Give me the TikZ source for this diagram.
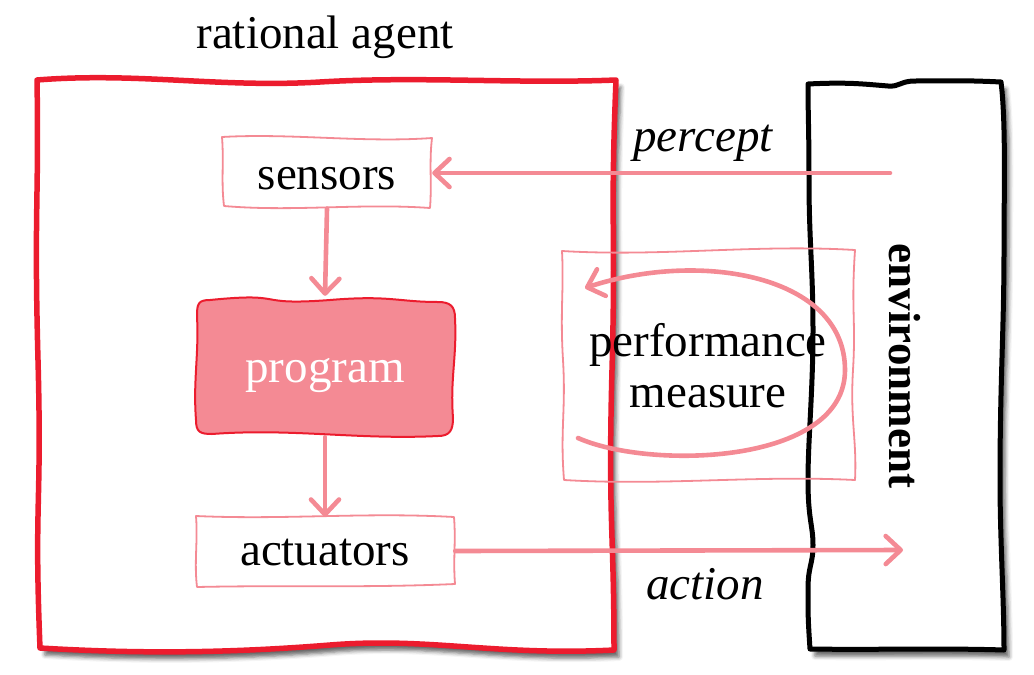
\documentclass[tikz,border=0pt]{standalone}
\usepackage{fontspec}
\setmainfont{Liberation Serif}
\usetikzlibrary{arrows.meta,shadows.blur,calc}
\definecolor{agentred}{RGB}{236,28,46}
\definecolor{soft}{RGB}{244,138,148}
\tikzset{
  big/.style={font=\fontsize{47}{51}\selectfont},
  agentbox/.style={draw=agentred,line width=5.5pt,fill=white,line join=round,
    blur shadow={shadow xshift=5pt,shadow yshift=-7pt,shadow blur radius=4pt,shadow opacity=60}},
  envbox/.style={draw=black,line width=5pt,fill=white,line join=round,
    blur shadow={shadow xshift=5pt,shadow yshift=-7pt,shadow blur radius=4pt,shadow opacity=60}},
  pinkbox/.style={draw=soft,line width=1.8pt,line join=round},
  progbox/.style={draw=agentred,line width=2pt,fill=soft},
  arr/.style={draw=soft,line width=4.6pt,line cap=round,
    -{Straight Barb[length=15pt,width=28pt,line cap=round,line join=round]}},
  lbl/.style={big,inner sep=0pt,minimum width=#1},
}
\begin{document}
\begin{tikzpicture}[x=1pt,y=-1pt]
\useasboundingbox (0,0) rectangle (1034,675);

% environment
\path[envbox] (808,84) .. controls +(40,-2) and +(-25,-2) .. (888,86) .. controls +(12,1) and +(-15,0) .. (915,81)
  .. controls +(25,0) and +(-40,-2) .. (1001,82)
  .. controls +(5,40) and +(0,-60) .. (1004,250) .. controls +(0,80) and +(0,-100) .. (1000,480)
  .. controls +(0,60) and +(0,-50) .. (1004,650)
  .. controls +(-60,-2) and +(60,1) .. (810,649)
  .. controls +(-2,-30) and +(0,25) .. (808,590) .. controls +(0,-25) and +(0,20) .. (813,545)
  .. controls +(0,-20) and +(0,40) .. (808,480) .. controls +(0,-40) and +(0,60) .. (813,330)
  .. controls +(0,-60) and +(0,60) .. (809,180) .. controls +(0,-50) and +(0,30) .. cycle;
\node[font=\fontsize{45}{50}\selectfont\bfseries,rotate=-90] (env) at (905,366) {environment};

% agent box
\path[agentbox] (37,80) .. controls +(100,-8) and +(-100,6) .. (320,82) .. controls +(100,-6) and +(-100,4) .. (616,80)
  .. controls +(-6,150) and +(4,-150) .. (612,370) .. controls +(-4,150) and +(0,-120) .. (614,650)
  .. controls +(-120,6) and +(100,-8) .. (330,645) .. controls +(-100,8) and +(100,6) .. (40,648)
  .. controls +(-6,-150) and +(4,150) .. (38,360) .. controls +(-4,-150) and +(2,120) .. cycle;
\node[big] (title) at (325,37) {rational agent};

% program
\path[progbox] (210,300) .. controls +(80,-8) and +(-80,6) .. (330,300) .. controls +(60,-5) and +(-40,0) .. (438,302)
  .. controls +(12,0) and +(0,-12) .. (455,318) .. controls +(2,40) and +(-3,-40) .. (453,418)
  .. controls +(0,12) and +(12,0) .. (438,436) .. controls +(-80,4) and +(80,-6) .. (212,434)
  .. controls +(-12,0) and +(0,12) .. (196,420) .. controls +(-3,-40) and +(2,40) .. (197,316)
  .. controls +(0,-12) and +(-12,0) .. cycle;
\node[lbl=260pt,minimum height=138pt,text height=36pt,text depth=8pt,text=white] (program) at (325,368) {program};

% sensors
\path[pinkbox] (222,137) .. controls +(70,-4) and +(-70,5) .. (432,138)
  .. controls +(-3,25) and +(2,-25) .. (430,208) .. controls +(-70,-5) and +(70,6) .. (224,206)
  .. controls +(-3,-25) and +(2,25) .. cycle;
\node[lbl=210pt,minimum height=71pt,text height=38pt,text depth=5pt] (sensors) at (327,173) {sensors};

% actuators
\path[pinkbox] (196,516) .. controls +(90,4) and +(-90,-5) .. (454,517)
  .. controls +(2,25) and +(-2,-25) .. (455,584) .. controls +(-90,4) and +(90,-2) .. (197,587)
  .. controls +(-3,-25) and +(2,25) .. cycle;
\node[lbl=260pt,minimum height=70pt,text height=36pt,text depth=8pt] (actuators) at (325,551) {actuators};

% performance measure
\path[pinkbox] (562,251) .. controls +(100,6) and +(-100,-6) .. (855,250)
  .. controls +(-4,60) and +(3,-50) .. (853,370) .. controls +(-3,50) and +(2,-40) .. (855,480)
  .. controls +(-100,-5) and +(100,6) .. (564,480)
  .. controls +(-4,-50) and +(3,50) .. (563,360) .. controls +(-3,-50) and +(2,40) .. cycle;
\node[big,align=center,inner sep=0pt,minimum width=293pt,minimum height=230pt] (perf) at (708,366) {performance\\measure};

% cycle arrow
\coordinate (cstart) at (578,438);
\coordinate (cmid) at (845,370);
\coordinate (cend) at (585,288);
\draw[arr] (cstart) .. controls (650,470) and (845,465) .. (cmid) .. controls (845,275) and (700,250) .. (cend);

% arrows
\coordinate (pstart) at (890,173);
\coordinate (aend) at (903,550);
\draw[arr] (pstart) -- (sensors.east);
\draw[arr] (actuators.east) -- (aend);
\draw[arr] (sensors.south) -- ([yshift=3pt]program.north);
\draw[arr] (program.south) -- ([yshift=-1pt]actuators.north);
\node[font=\fontsize{47}{51}\selectfont\itshape] (percept) at (703,143) {percept};
\node[font=\fontsize{47}{51}\selectfont\itshape] (action) at (705,584) {action};
\end{tikzpicture}
\end{document}
